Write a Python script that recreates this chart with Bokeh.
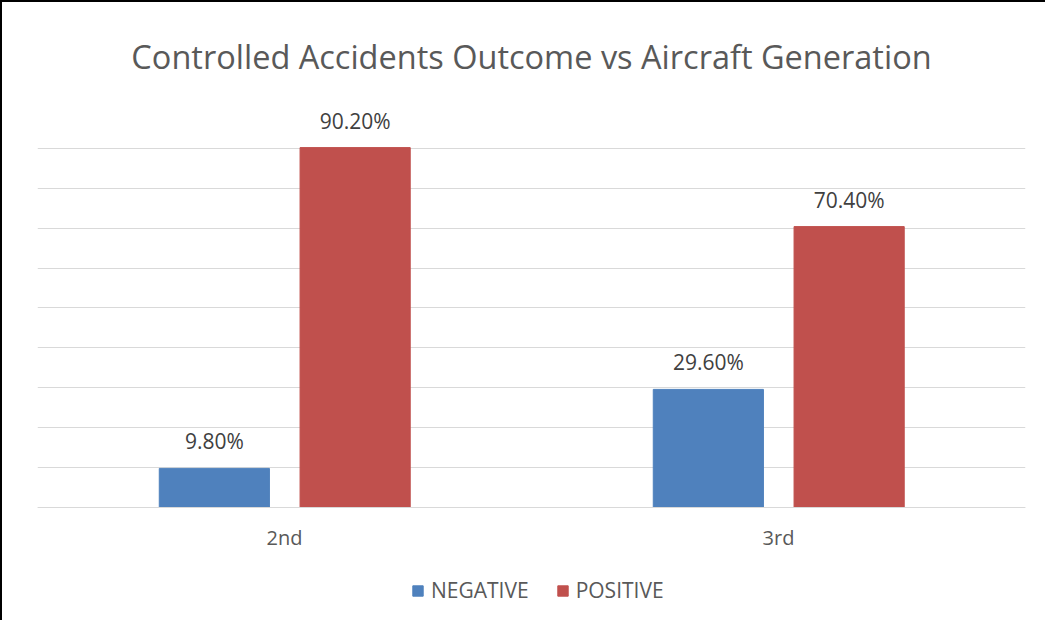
from bokeh.plotting import figure
from bokeh.models import (ColumnDataSource, FactorRange, LabelSet, Legend, LegendItem,
                          FixedTicker, Range1d)
from bokeh.core.properties import value
from bokeh.transform import dodge
from bokeh.embed import file_html
from bokeh.resources import INLINE

categories = ["2nd", "3rd"]
negative = [9.8, 29.6]
positive = [90.2, 70.4]
neg_labels = ["9.80%", "29.60%"]
pos_labels = ["90.20%", "70.40%"]
grid_ticks = [0, 10, 20, 30, 40, 50, 60, 70, 80, 90, 100]

FONT = "Open Sans"

src = ColumnDataSource(dict(cat=categories, neg=negative, pos=positive,
                            neg_lbl=neg_labels, pos_lbl=pos_labels))

# frame extends below zero to host the category labels and the legend
p = figure(x_range=FactorRange(*categories, range_padding=0),
           y_range=Range1d(-27.07, 100),
           frame_width=988, frame_height=507, output_backend="svg", toolbar_location=None,
           min_border_left=35, min_border_right=20, min_border_top=44, min_border_bottom=5)
p.styles = {"border-left": "2px solid black", "border-top": "2px solid black"}

p.title.text = "Controlled Accidents Outcome vs Aircraft Generation"
p.title.align = "center"
p.title.text_font = FONT
p.title.text_font_size = "32.5px"
p.title.text_font_style = "normal"
p.title.text_color = "#595959"
p.title.standoff = 59

r1 = p.vbar(x=dodge("cat", -0.142, range=p.x_range), top="neg", width=0.223,
            source=src, color="#4F81BD")
r2 = p.vbar(x=dodge("cat", 0.143, range=p.x_range), top="pos", width=0.223,
            source=src, color="#C0504D")

for col, lbl, off in (("neg", "neg_lbl", -0.142), ("pos", "pos_lbl", 0.143)):
    ls = LabelSet(x=dodge("cat", off, range=p.x_range), y=col, text=lbl, source=src,
                  text_align="center", text_baseline="alphabetic", y_offset=19,
                  text_font=value(FONT), text_font_size="21px", text_color="#404040")
    p.add_layout(ls)

p.outline_line_color = None
p.yaxis.visible = False
p.yaxis.ticker = FixedTicker(ticks=grid_ticks)
p.ygrid.ticker = FixedTicker(ticks=grid_ticks)
p.ygrid.grid_line_color = "#d9d9d9"
p.ygrid.grid_line_width = 1
p.xgrid.grid_line_color = None

p.xaxis.fixed_location = 0
p.xaxis.axis_line_color = "#d9d9d9"
p.xaxis.major_tick_line_color = None
p.xaxis.minor_tick_line_color = None
p.xaxis.major_label_text_font = FONT
p.xaxis.major_label_text_font_size = "20px"
p.xaxis.major_label_text_color = "#595959"
p.xaxis.major_label_standoff = 11

legend = Legend(items=[LegendItem(label="NEGATIVE", renderers=[r1]),
                       LegendItem(label="POSITIVE", renderers=[r2])],
                orientation="horizontal", location=(374, 11),
                label_text_font=FONT, label_text_font_size="21px",
                label_text_color="#595959", glyph_width=13, glyph_height=13,
                border_line_color=None, background_fill_alpha=0,
                spacing=27, margin=0, padding=0, label_standoff=7)
p.add_layout(legend, "center")

open("out.html", "w").write(file_html(p, INLINE))
